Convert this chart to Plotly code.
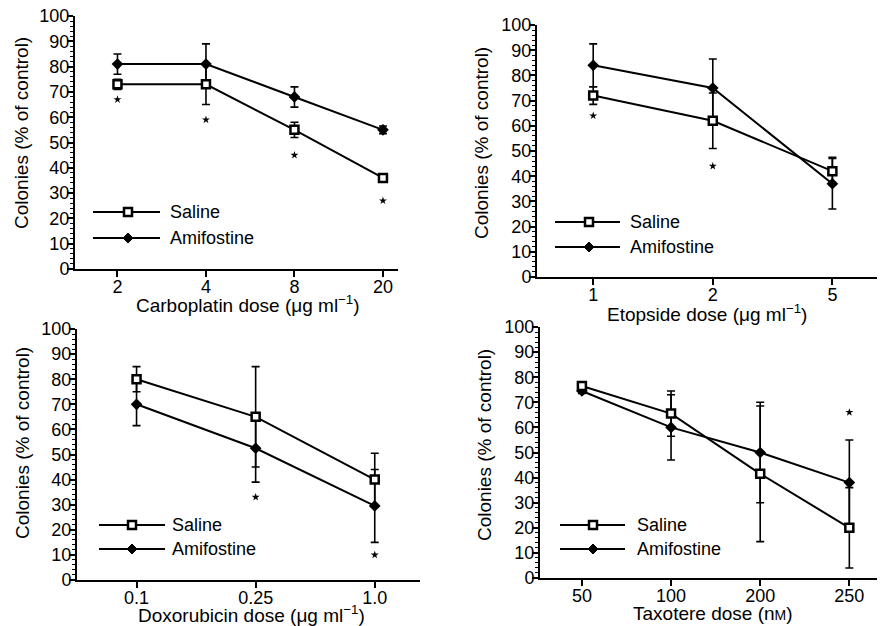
import plotly.graph_objects as go

# page body keeps its default 8px margin, so the figure is 8px smaller
OFF = 8
W, H = 885 - OFF, 626 - OFF

# ---------------- data ----------------
carbo_doses = ["2", "4", "8", "20"]
carbo_saline = [73, 73, 55, 36]
carbo_saline_err = [2, 8, 3, 1.5]
carbo_amif = [81, 81, 68, 55]
carbo_amif_err = [4, 8, 4, 1.5]
carbo_sig = [67, 59, 45, 27]

eto_doses = ["1", "2", "5"]
eto_saline = [72, 62, 42]
eto_saline_err = [3.5, 11, 5.5]
eto_amif = [84, 75, 37]
eto_amif_err = [8.5, 11.5, 10]
eto_sig = [64, 44, None]

doxo_doses = ["0.1", "0.25", "1.0"]
doxo_saline = [80, 65, 40]
doxo_saline_err = [5, 20, 10.5]
doxo_amif = [70, 52.5, 29.5]
doxo_amif_err = [8.5, 13.5, 14.5]
doxo_sig = [None, 33, 10]

taxo_doses = ["50", "100", "200", "250"]
taxo_saline = [76.5, 65.5, 41.5, 20]
taxo_saline_err = [1, 9, 27, 16]
taxo_amif = [74.5, 60, 50, 38]
taxo_amif_err = [1, 13, 20, 17]
taxo_sig = [None, None, None, 66]

y_ticks = list(range(0, 101, 10))
series_names = ["Saline", "Amifostine"]

FONT = "Liberation Sans, Arial, sans-serif"


def px(x):
    return (x - OFF) / W


def py(y):
    return 1 - (y - OFF) / H


panels = [
    dict(doses=carbo_doses, sal=carbo_saline, sal_e=carbo_saline_err, amf=carbo_amif,
         amf_e=carbo_amif_err, sig=carbo_sig,
         xtitle="Carboplatin dose (\u03bcg ml<sup>\u22121</sup>)",
         xdom=(75, 398), ydom=(269, 16), xr=[-0.48, 3.17],
         xt_pos=(248, 304), yt_pos=(22, 133),
         leg=dict(x0=93, x1=160, mx=128, tx=168, y1=212, y2=238)),
    dict(doses=eto_doses, sal=eto_saline, sal_e=eto_saline_err, amf=eto_amif,
         amf_e=eto_amif_err, sig=eto_sig,
         xtitle="Etopside dose (\u03bcg ml<sup>\u22121</sup>)",
         xdom=(537, 885), ydom=(277, 25), xr=[-0.47, 2.44],
         xt_pos=(707, 313), yt_pos=(481, 143),
         leg=dict(x0=555, x1=620, mx=589, tx=628, y1=222, y2=247)),
    dict(doses=doxo_doses, sal=doxo_saline, sal_e=doxo_saline_err, amf=doxo_amif,
         amf_e=doxo_amif_err, sig=doxo_sig,
         xtitle="Doxorubicin dose (\u03bcg ml<sup>\u22121</sup>)",
         xdom=(77, 420), ydom=(580, 329), xr=[-0.5, 2.38],
         xt_pos=(251, 614), yt_pos=(22, 443),
         leg=dict(x0=99, x1=165, mx=132, tx=170, y1=525, y2=549)),
    dict(doses=taxo_doses, sal=taxo_saline, sal_e=taxo_saline_err, amf=taxo_amif,
         amf_e=taxo_amif_err, sig=taxo_sig,
         xtitle="Taxotere dose (n<span style='font-size:14px'>M</span>)",
         xdom=(540, 885), ydom=(578, 327), xr=[-0.47, 3.4],
         xt_pos=(713, 613), yt_pos=(484, 445),
         leg=dict(x0=560, x1=625, mx=593, tx=635, y1=525, y2=549)),
]

fig = go.Figure()
shapes = []
annotations = []
layout_axes = {}

for i, p in enumerate(panels, start=1):
    xa = "x" if i == 1 else f"x{i}"
    ya = "y" if i == 1 else f"y{i}"
    xkey = "xaxis" if i == 1 else f"xaxis{i}"
    ykey = "yaxis" if i == 1 else f"yaxis{i}"

    # amifostine (filled diamonds)
    fig.add_trace(go.Scatter(
        x=p["doses"], y=p["amf"], xaxis=xa, yaxis=ya, mode="lines+markers",
        name=series_names[1], showlegend=False,
        line=dict(color="black", width=2),
        marker=dict(symbol="diamond", size=9, color="black"),
        error_y=dict(type="data", array=p["amf_e"], color="black", thickness=1.6, width=4),
    ))
    # saline (open squares)
    fig.add_trace(go.Scatter(
        x=p["doses"], y=p["sal"], xaxis=xa, yaxis=ya, mode="lines+markers",
        name=series_names[0], showlegend=False,
        line=dict(color="black", width=2),
        marker=dict(symbol="square", size=8, color="white", line=dict(color="black", width=2.5)),
        error_y=dict(type="data", array=p["sal_e"], color="black", thickness=1.6, width=4),
    ))
    # significance asterisks
    fig.add_trace(go.Scatter(
        x=p["doses"], y=p["sig"], xaxis=xa, yaxis=ya, mode="markers",
        showlegend=False, hoverinfo="skip",
        marker=dict(symbol="star", size=6, color="black"),
    ))

    x0, x1 = p["xdom"]
    yb, yt = p["ydom"]
    layout_axes[xkey] = dict(
        domain=[px(x0), min(1.0, px(x1))], anchor=ya, type="category", range=p["xr"],
        showline=True, linecolor="black", linewidth=2, ticks="outside", ticklen=6,
        tickwidth=1.5, tickcolor="black", showgrid=False, zeroline=False,
        automargin=False, ticklabelstandoff=-6, ticklabeloverflow="allow",
        tickfont=dict(family=FONT, size=18, color="black"), fixedrange=True,
    )
    layout_axes[ykey] = dict(
        domain=[py(yb), py(yt)], anchor=xa, range=[0, 100],
        tickvals=y_ticks, showline=True, linecolor="black", linewidth=2,
        ticks="outside", ticklen=6, tickwidth=1.5, tickcolor="black",
        minor=dict(ticks="outside", ticklen=3, tickwidth=1, tickcolor="black", dtick=2, showgrid=False),
        showgrid=False, zeroline=False, ticklabelstandoff=-6, automargin=False,
        ticklabeloverflow="allow",
        tickfont=dict(family=FONT, size=18, color="black"), fixedrange=True,
    )

    # axis titles
    annotations.append(dict(
        text=p["xtitle"], x=px(p["xt_pos"][0]), y=py(p["xt_pos"][1]),
        xref="paper", yref="paper", showarrow=False, xanchor="center", yanchor="middle",
        font=dict(family=FONT, size=19, color="black"),
    ))
    annotations.append(dict(
        text="Colonies (% of control)", x=px(p["yt_pos"][0]), y=py(p["yt_pos"][1]),
        xref="paper", yref="paper", showarrow=False, textangle=-90,
        xanchor="center", yanchor="middle",
        font=dict(family=FONT, size=19, color="black"),
    ))

    # legend drawn inside the panel
    lg = p["leg"]
    for row, name in zip((lg["y1"], lg["y2"]), series_names):
        shapes.append(dict(type="line", xref="paper", yref="paper",
                           x0=px(lg["x0"]), x1=px(lg["x1"]), y0=py(row), y1=py(row),
                           line=dict(color="black", width=2)))
        if name == "Saline":
            s = 4
            shapes.append(dict(type="rect", xref="paper", yref="paper",
                               x0=px(lg["mx"] - s), x1=px(lg["mx"] + s),
                               y0=py(row + s), y1=py(row - s),
                               fillcolor="white", line=dict(color="black", width=2.5)))
        else:
            d = 5
            path = (f"M {px(lg['mx'] - d)},{py(row)} L {px(lg['mx'])},{py(row - d)} "
                    f"L {px(lg['mx'] + d)},{py(row)} L {px(lg['mx'])},{py(row + d)} Z")
            shapes.append(dict(type="path", xref="paper", yref="paper", path=path,
                               fillcolor="black", line=dict(color="black", width=1)))
        annotations.append(dict(
            text=name, x=px(lg["tx"]), y=py(row), xref="paper", yref="paper",
            showarrow=False, xanchor="left", yanchor="middle",
            font=dict(family=FONT, size=18, color="black"),
        ))

fig.update_layout(
    width=W, height=H, margin=dict(l=0, r=0, t=0, b=0, pad=0, autoexpand=False),
    paper_bgcolor="white", plot_bgcolor="white",
    showlegend=False, shapes=shapes, annotations=annotations,
    font=dict(family=FONT, color="black"),
    **layout_axes,
)

fig.write_html("out.html")
